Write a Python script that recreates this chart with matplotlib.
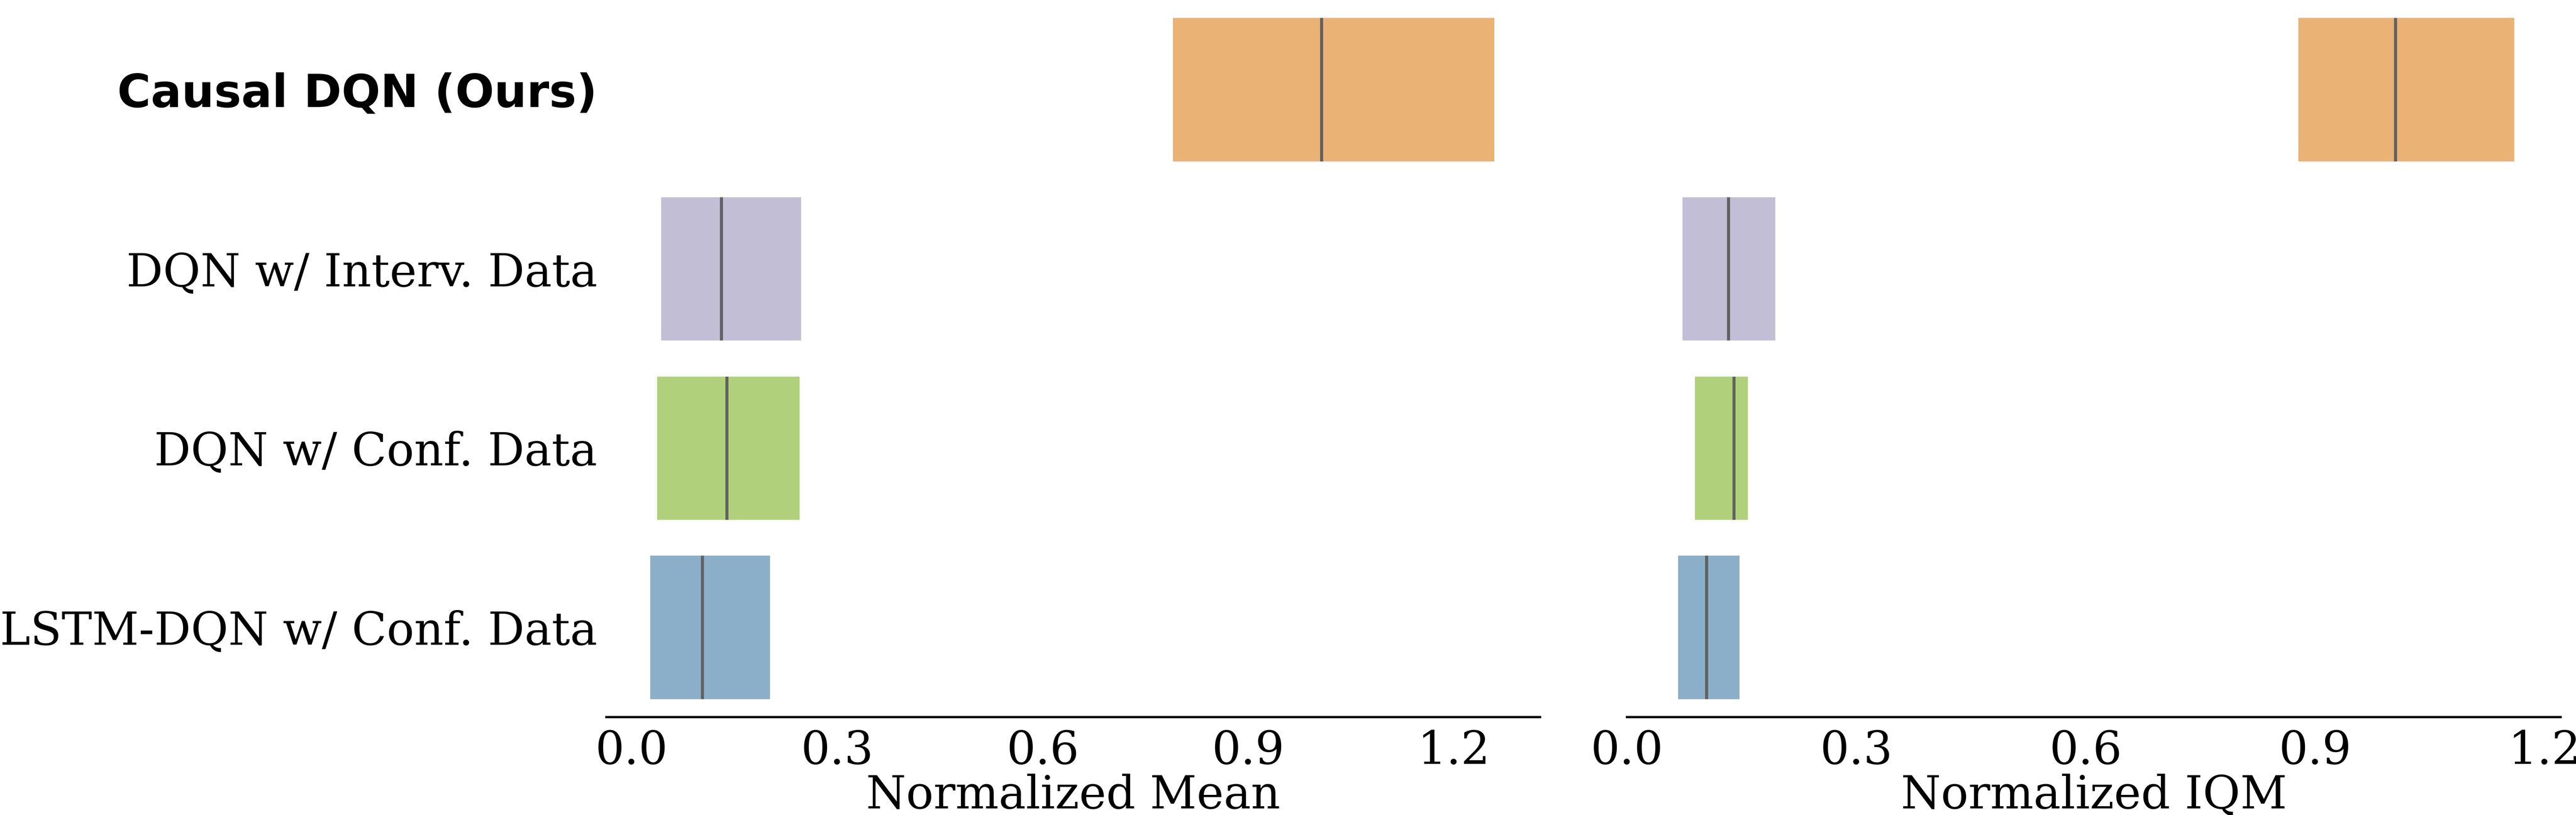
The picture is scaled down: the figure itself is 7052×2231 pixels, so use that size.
import matplotlib
matplotlib.use('Agg')
import matplotlib.pyplot as plt

# algorithms, bottom to top
algos = ['LSTM-DQN w/ Conf. Data', 'DQN w/ Conf. Data', 'DQN w/ Interv. Data', 'Causal DQN (Ours)']
colors = ['#8BAFC9', '#B0D07B', '#C1BED6', '#EAB275']

# Normalized Mean: lower CI, point estimate, upper CI
mean_lo = [0.027, 0.037, 0.043, 0.790]
mean_pt = [0.103, 0.139, 0.131, 1.007]
mean_hi = [0.202, 0.245, 0.247, 1.259]

# Normalized IQM
iqm_lo = [0.067, 0.089, 0.0725, 0.878]
iqm_pt = [0.104, 0.140, 0.133, 1.005]
iqm_hi = [0.147, 0.158, 0.194, 1.160]

xticks = [0.0, 0.3, 0.6, 0.9, 1.2]
metrics = ['Normalized Mean', 'Normalized IQM']

fs = 30
h = 0.8

fig = plt.figure(figsize=(7052 / 300, 2231 / 300), dpi=300)
ax1 = fig.add_axes([0.2354, 0.1201, 0.3625, 0.8799])
ax2 = fig.add_axes([0.6316, 0.1201, 0.3625, 0.8799])

data = [(mean_lo, mean_pt, mean_hi), (iqm_lo, iqm_pt, iqm_hi)]
xlims = [(-0.037, 1.326), (0.002, 1.221)]

for k, ax in enumerate([ax1, ax2]):
    lo, pt, hi = data[k]
    for i in range(len(algos)):
        ax.barh(i, hi[i] - lo[i], left=lo[i], height=h, color=colors[i], linewidth=0)
        ax.vlines(pt[i], i - h / 2, i + h / 2, color='#616161', linewidth=2)
    ax.set_xlim(*xlims[k])
    ax.set_ylim(-0.5, 3.5)
    ax.set_xticks(xticks)
    ax.set_xticklabels(['%.1f' % t for t in xticks], fontsize=fs, family='DejaVu Serif')
    ax.tick_params(axis='x', length=0, pad=8)
    ax.tick_params(axis='y', length=0, pad=6)
    ax.set_xlabel(metrics[k], fontsize=fs, family='DejaVu Serif', labelpad=0)
    for s in ['left', 'top', 'right']:
        ax.spines[s].set_visible(False)
    ax.spines['bottom'].set_linewidth(1.5)
    ax.spines['bottom'].set_color('black')

ax1.set_yticks(range(len(algos)))
ax1.set_yticklabels(algos, fontsize=fs, family='DejaVu Serif')
top = ax1.get_yticklabels()[-1]
top.set_family('DejaVu Sans')
top.set_fontweight('bold')
ax2.set_yticks([])

fig.savefig('out.png', dpi=300)
